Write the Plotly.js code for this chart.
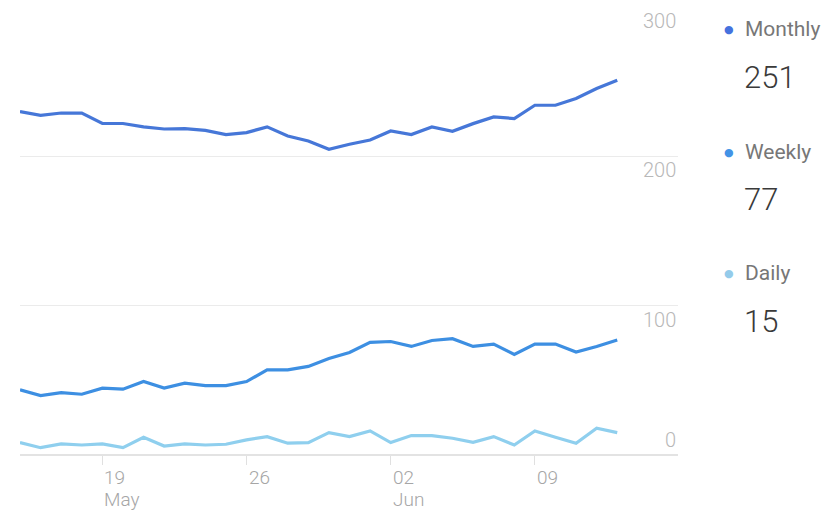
<!DOCTYPE html>
<html>
<head>
<meta charset="utf-8">
<script src="https://cdn.plot.ly/plotly-3.0.1.min.js"></script>
<style>html,body{margin:0;padding:0;background:#fff;}#chart{width:829px;height:516px;}</style>
</head>
<body>
<div id="chart"></div>
<script>
// ---- data ----
const startDate = '2019-05-15';
const dayCount = 30;
const monthly = [230, 227.5, 229, 229, 222, 222, 219.7, 218.3, 218.6, 217.4, 214.6, 215.9, 219.7, 213.6, 210.3, 204.7, 208.1, 210.9, 217, 214.6, 219.7, 216.8, 221.9, 226.4, 225.3, 234.2, 234.2, 238.7, 245.4, 251];
const weekly = [43.6, 39.8, 41.8, 40.7, 44.8, 44.1, 49.2, 44.8, 48.1, 46.5, 46.5, 49.2, 57, 57, 59.3, 64.6, 68.7, 75.4, 76, 72.7, 76.7, 77.9, 72.7, 74.3, 67.4, 74.3, 74.3, 68.9, 72.7, 77];
const daily = [8.3, 4.9, 7.4, 6.7, 7.4, 4.9, 11.9, 6, 7.4, 6.7, 7.2, 10.1, 12.3, 7.9, 8.3, 15, 12.3, 16.1, 8.3, 13, 13, 11.2, 8.5, 12.3, 6.7, 16.1, 11.9, 7.9, 17.9, 15];
const seriesNames = ['Monthly', 'Weekly', 'Daily'];
const seriesTotals = ['251', '77', '15'];
const xTickDates = ['2019-05-19', '2019-05-26', '2019-06-02', '2019-06-09'];
const xTickDays = ['19', '26', '02', '09'];
const xTickMonths = ['May', '', 'Jun', ''];
const yTickVals = [0, 100, 200, 300];
const yTickLabels = ['0', '100', '200', '300'];

// ---- styling ----
const colors = ['#4677d8', '#3d8fe2', '#8fcfee'];
const dotColors = ['#4572de', '#4393e6', '#94cbea'];

function dayStr(i) {
  const d = new Date(startDate + 'T00:00:00Z');
  d.setUTCDate(d.getUTCDate() + i);
  return d.toISOString().slice(0, 10);
}
const dates = [];
for (let i = 0; i < dayCount; i++) dates.push(dayStr(i));

const seriesData = [monthly, weekly, daily];
const traces = seriesData.map((ys, k) => ({
  x: dates, y: ys, type: 'scatter', mode: 'lines', name: seriesNames[k],
  line: {color: colors[k], width: 3.2, shape: 'linear'},
  hoverinfo: 'skip'
}));

// margins/plot box in px
const L = 20, R = 678, T = 7, B = 455, W = 829, H = 516;
const px2x = p => (p - L) / (R - L);
const py2y = p => (B - p) / (B - T);

const annotations = [];
// y tick labels
yTickVals.forEach((v, i) => {
  annotations.push({
    xref: 'paper', yref: 'y', x: 1, y: v, xanchor: 'right', yanchor: 'middle',
    yshift: v === 0 ? 15 : -14, showarrow: false, text: yTickLabels[i],
    font: {family: 'Roboto', size: 20, color: '#b8b8b8', weight: 300}
  });
});
// x tick labels
xTickDates.forEach((d, i) => {
  annotations.push({
    xref: 'x', yref: 'paper', x: d, y: py2y(477), xanchor: 'left', yanchor: 'middle',
    xshift: 0, showarrow: false, text: xTickDays[i],
    font: {family: 'Roboto', size: 19, color: '#a6a6a6', weight: 300}
  });
  if (xTickMonths[i]) {
    annotations.push({
      xref: 'x', yref: 'paper', x: d, y: py2y(499), xanchor: 'left', yanchor: 'middle',
      xshift: 0, showarrow: false, text: xTickMonths[i],
      font: {family: 'Roboto', size: 19, color: '#a6a6a6', weight: 300}
    });
  }
});
// legend
const legendTop = [29, 152, 273];
const valueTop = [77, 199, 321];
seriesNames.forEach((n, k) => {
  annotations.push({
    xref: 'paper', yref: 'paper', x: px2x(729), y: py2y(legendTop[k]), xanchor: 'center', yanchor: 'middle',
    showarrow: false, text: '●', font: {family: 'DejaVu Sans', size: 11, color: dotColors[k]}
  });
  annotations.push({
    xref: 'paper', yref: 'paper', x: px2x(743), y: py2y(legendTop[k]), xanchor: 'left', yanchor: 'middle',
    showarrow: false, text: n, font: {family: 'Roboto', size: 21, color: '#777777'}
  });
  annotations.push({
    xref: 'paper', yref: 'paper', x: px2x(742), y: py2y(valueTop[k]), xanchor: 'left', yanchor: 'middle',
    showarrow: false, text: seriesTotals[k], font: {family: 'Roboto', size: 31, color: '#3a3a3a', weight: 300}
  });
});

const dayMs = 86400000;
const x0 = new Date(startDate + 'T00:00:00Z').getTime();
const xEnd = x0 + 31.95 * dayMs;

const layout = {
  width: W, height: H,
  margin: {l: L, r: W - R, t: T, b: H - B, pad: 0},
  paper_bgcolor: '#ffffff', plot_bgcolor: '#ffffff',
  showlegend: false,
  xaxis: {
    type: 'date', range: [x0, xEnd], tickvals: xTickDates, showticklabels: false,
    ticks: 'outside', ticklen: 9, tickcolor: '#e0e0e0', tickwidth: 1,
    showgrid: false, zeroline: false, showline: false, fixedrange: true
  },
  yaxis: {
    range: [0, 300], tickvals: yTickVals, showticklabels: false, ticks: '',
    showgrid: true, gridcolor: '#ebebeb', gridwidth: 1,
    zeroline: true, zerolinecolor: '#e3e3e3', zerolinewidth: 1.5,
    showline: false, fixedrange: true
  },
  annotations: annotations,
  font: {family: 'Roboto'}
};

Plotly.newPlot('chart', traces, layout, {displayModeBar: false, staticPlot: true});
</script>
</body>
</html>
